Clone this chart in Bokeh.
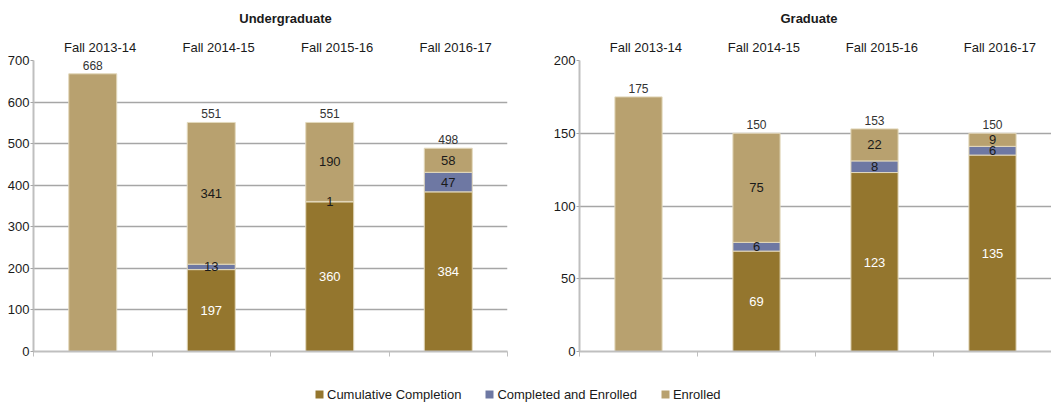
from bokeh.plotting import figure
from bokeh.models import (ColumnDataSource, Range1d, FixedTicker, SingleIntervalTicker,
                          LinearAxis, Label, Legend, LegendItem)
from bokeh.layouts import column, row
from bokeh.embed import file_html
from bokeh.resources import INLINE
from bokeh.core.properties import value

# ---------------- data ----------------
categories = ["Fall 2013-14", "Fall 2014-15", "Fall 2015-16", "Fall 2016-17"]
series_names = ["Cumulative Completion", "Completed and Enrolled", "Enrolled"]
chart_titles = ["Undergraduate", "Graduate"]

ug_completion = [0, 197, 360, 384]
ug_comp_enrolled = [0, 13, 1, 47]
ug_enrolled = [668, 341, 190, 58]
ug_totals = [668, 551, 551, 498]

gr_completion = [0, 69, 123, 135]
gr_comp_enrolled = [0, 6, 8, 6]
gr_enrolled = [175, 75, 22, 9]
gr_totals = [175, 150, 153, 150]

# ---------------- style ----------------
FONT = "Liberation Sans"
COLORS = ["#94762E", "#6E78A3", "#B8A16F"]
GRID = "#A6A6A6"
AXIS = "#BFBFBF"
TXT = "#1A1A1A"
W = 1052
HEADER_H = 30


def make_chart(comp, ce, enr, totals, ymax, ystep, fw, lb, rb, bw):
    n = len(categories)
    xs = [i + 0.5 for i in range(n)]
    src = ColumnDataSource(dict(x=xs, comp=comp, ce=ce, enr=enr))
    p = figure(frame_width=fw, frame_height=291,
               x_range=Range1d(0, n), y_range=Range1d(0, ymax),
               output_backend="svg", toolbar_location=None,
               min_border_left=lb, min_border_right=rb,
               min_border_top=30, min_border_bottom=10,
               outline_line_color=None, background_fill_color="white",
               border_fill_color="white")
    p.xgrid.visible = False
    yt = SingleIntervalTicker(interval=ystep)
    p.yaxis[0].ticker = yt
    p.ygrid[0].ticker = yt
    p.ygrid.grid_line_color = GRID
    p.ygrid.grid_line_width = 1.3

    ya = p.yaxis[0]
    ya.axis_line_color = AXIS
    ya.axis_line_width = 2
    ya.major_tick_out = 3
    ya.major_tick_in = 0
    ya.major_tick_line_color = GRID
    ya.minor_tick_line_color = None
    ya.major_label_standoff = 0
    ya.major_label_text_font = FONT
    ya.major_label_text_font_size = "13px"
    ya.major_label_text_color = TXT

    xa = p.xaxis[0]
    xa.ticker = FixedTicker(ticks=list(range(n + 1)))
    xa.major_label_overrides = {i: "" for i in range(n + 1)}
    xa.major_label_text_font_size = "0px"
    xa.major_label_standoff = 0
    xa.axis_line_color = AXIS
    xa.axis_line_width = 2
    xa.major_tick_out = 5
    xa.major_tick_in = 0
    xa.major_tick_line_color = AXIS
    xa.minor_tick_line_color = None

    top_ticks = [i + 0.5625 for i in range(n)]
    ta = LinearAxis(ticker=FixedTicker(ticks=top_ticks),
                    major_label_overrides={t: c for t, c in zip(top_ticks, categories)},
                    axis_line_color=None, major_tick_line_color=None,
                    minor_tick_line_color=None, major_label_standoff=0,
                    major_label_text_font=FONT, major_label_text_font_size="13px",
                    major_label_text_color=TXT)
    p.add_layout(ta, "above")

    p.vbar_stack(["comp", "ce", "enr"], x="x", width=bw, source=src,
                 fill_color=COLORS, line_color="#E3D9BD", line_width=1)

    # segment labels
    lx, ly, lt, lc = [], [], [], []
    for i in range(n):
        if comp[i] > 0:
            base = 0
            for k, v in enumerate((comp[i], ce[i], enr[i])):
                lx.append(xs[i])
                ly.append(base + v / 2)
                lt.append(str(v))
                lc.append("white" if k == 0 else TXT)
                base += v
    p.text(x="x", y="y", text="t", text_color="c",
           source=ColumnDataSource(dict(x=lx, y=ly, t=lt, c=lc)),
           text_align="center", text_baseline="middle",
           text_font=value(FONT), text_font_size="13px")

    # totals
    tops = [a + b + c for a, b, c in zip(comp, ce, enr)]
    p.text(x="x", y="y", text="t",
           source=ColumnDataSource(dict(x=xs, y=tops, t=[str(t) for t in totals])),
           text_align="center", text_baseline="bottom", y_offset=-4,
           text_color="#333333", text_font=value(FONT), text_font_size="12px")
    return p


# header with the two chart titles
head = figure(frame_width=W, frame_height=HEADER_H, x_range=Range1d(0, W), y_range=Range1d(0, HEADER_H),
              output_backend="svg", toolbar_location=None,
              x_axis_location=None, y_axis_location=None, outline_line_color=None,
              min_border=0, border_fill_color="white")
head.grid.visible = False
for t, cx in zip(chart_titles, [285, 808.5]):
    head.add_layout(Label(x=cx, y=HEADER_H - 18, text=t, text_align="center",
                          text_baseline="middle", text_font=FONT, text_font_size="13px",
                          text_font_style="bold", text_color=TXT))

p1 = make_chart(ug_completion, ug_comp_enrolled, ug_enrolled, ug_totals,
                700, 100, 474, 33, 39, 0.405)
p2 = make_chart(gr_completion, gr_comp_enrolled, gr_enrolled, gr_totals,
                200, 50, 472, 33, 0, 0.4)

leg = figure(frame_width=W, frame_height=43, x_range=Range1d(0, 1), y_range=Range1d(0, 1),
             output_backend="svg", toolbar_location=None,
             x_axis_location=None, y_axis_location=None, outline_line_color=None,
             min_border=0, border_fill_color="white")
leg.grid.visible = False
items = []
for name, col in zip(series_names, COLORS):
    r = leg.vbar(x=[-5], top=[-5], bottom=[-6], width=0.1, fill_color=col, line_color=None)
    items.append(LegendItem(label=name, renderers=[r]))
legend = Legend(items=items, orientation="horizontal", location=(314, 2),
                glyph_width=10, glyph_height=10, label_standoff=3, spacing=23,
                padding=0, margin=0, border_line_color=None, background_fill_alpha=0,
                label_height=16, label_text_font=FONT, label_text_font_size="13px",
                label_text_color=TXT)
leg.add_layout(legend)

layout = column(head, row(p1, p2), leg, spacing=0)
open("out.html", "w").write(file_html(layout, INLINE))
